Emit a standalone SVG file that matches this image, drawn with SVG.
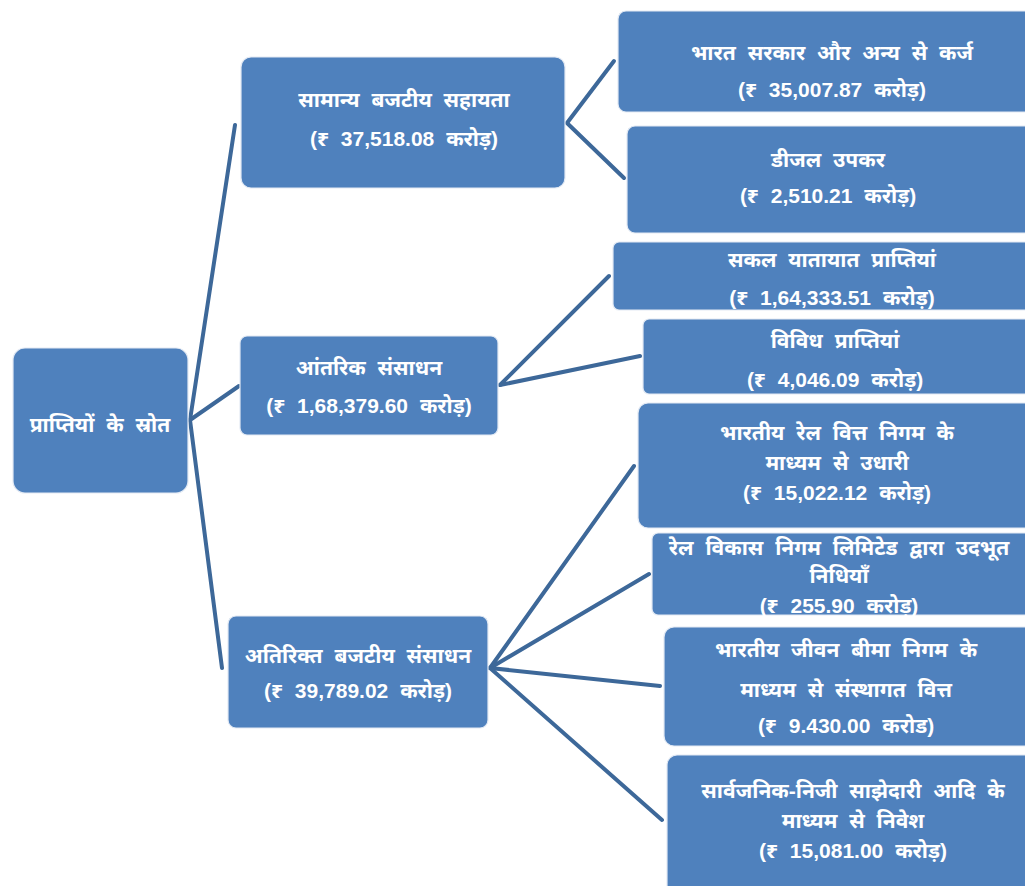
<svg xmlns="http://www.w3.org/2000/svg" width="1025" height="886" viewBox="0 0 1025 886">
<style>
.box{fill:#4F81BD;stroke:#E3EAF4;stroke-width:1.2}
.t{fill:#fff;font-family:"Liberation Sans","Noto Sans Devanagari","Noto Sans",sans-serif;font-weight:bold;font-size:21px;word-spacing:6px;text-anchor:middle}
.c{stroke:#3D6899;stroke-width:4;fill:none;stroke-linecap:round}
</style>
<rect width="1025" height="886" fill="#fff"/>
<g id="connectors">
<line class="c" x1="190" y1="420" x2="235" y2="125"/>
<line class="c" x1="190" y1="420" x2="239" y2="386"/>
<line class="c" x1="190" y1="420" x2="222" y2="668"/>
<line class="c" x1="567" y1="123" x2="614" y2="61"/>
<line class="c" x1="567" y1="123" x2="624" y2="178"/>
<line class="c" x1="500" y1="385" x2="609" y2="276"/>
<line class="c" x1="500" y1="385" x2="640" y2="356"/>
<line class="c" x1="490" y1="668" x2="634" y2="466"/>
<line class="c" x1="490" y1="668" x2="649" y2="574"/>
<line class="c" x1="490" y1="668" x2="660" y2="686"/>
<line class="c" x1="490" y1="668" x2="662" y2="820"/>
</g>
<g id="root"><rect class="box" x="13" y="348" width="175" height="145" rx="12"/><text class="t" x="100" y="432">प्राप्तियों के स्रोत</text></g>
<g id="n1"><rect class="box" x="241" y="57" width="324" height="131" rx="10"/><text class="t" x="404" y="107">सामान्य बजटीय सहायता</text><text class="t" x="404" y="146">(₹ 37,518.08 करोड़)</text></g>
<g id="n2"><rect class="box" x="240" y="336" width="258" height="99" rx="7"/><text class="t" x="369" y="375">आंतरिक संसाधन</text><text class="t" x="369" y="413">(₹ 1,68,379.60 करोड़)</text></g>
<g id="n3"><rect class="box" x="228" y="616" width="260" height="112" rx="8"/><text class="t" x="358" y="663">अतिरिक्त बजटीय संसाधन</text><text class="t" x="358" y="698">(₹ 39,789.02 करोड़)</text></g>
<g id="r1"><rect class="box" x="618" y="11" width="420" height="101" rx="8"/><text class="t" x="832" y="60">भारत सरकार और अन्य से कर्ज</text><text class="t" x="832" y="97">(₹ 35,007.87 करोड़)</text></g>
<g id="r2"><rect class="box" x="627" y="126" width="410" height="107" rx="8"/><text class="t" x="828" y="167">डीजल उपकर</text><text class="t" x="828" y="203">(₹ 2,510.21 करोड़)</text></g>
<g id="r3"><rect class="box" x="613" y="242" width="420" height="68" rx="6"/><text class="t" x="832" y="267">सकल यातायात प्राप्तियां</text><text class="t" x="832" y="305">(₹ 1,64,333.51 करोड़)</text></g>
<g id="r4"><rect class="box" x="643" y="319" width="390" height="75" rx="6"/><text class="t" x="835" y="348">विविध प्राप्तियां</text><text class="t" x="835" y="387">(₹ 4,046.09 करोड़)</text></g>
<g id="r5"><rect class="box" x="638" y="403" width="400" height="125" rx="10"/><text class="t" x="837" y="440">भारतीय रेल वित्त निगम के</text><text class="t" x="837" y="470">माध्यम से उधारी</text><text class="t" x="837" y="500">(₹ 15,022.12 करोड़)</text></g>
<g id="r6"><rect class="box" x="652" y="533" width="385" height="82" rx="6"/><text class="t" x="839" y="555">रेल विकास निगम लिमिटेड द्वारा उदभूत</text><text class="t" x="839" y="583">निधियाँ</text><text class="t" x="839" y="613">(₹ 255.90 करोड़)</text></g>
<g id="r7"><rect class="box" x="664" y="627" width="375" height="119" rx="10"/><text class="t" x="846" y="657">भारतीय जीवन बीमा निगम के</text><text class="t" x="846" y="697">माध्यम से संस्थागत वित्त</text><text class="t" x="846" y="733">(₹ 9.430.00 करोड)</text></g>
<g id="r8"><rect class="box" x="667" y="755" width="370" height="140" rx="10"/><text class="t" x="853" y="798">सार्वजनिक-निजी साझेदारी आदि के</text><text class="t" x="853" y="828">माध्यम से निवेश</text><text class="t" x="853" y="858">(₹ 15,081.00 करोड़)</text></g>
</svg>
